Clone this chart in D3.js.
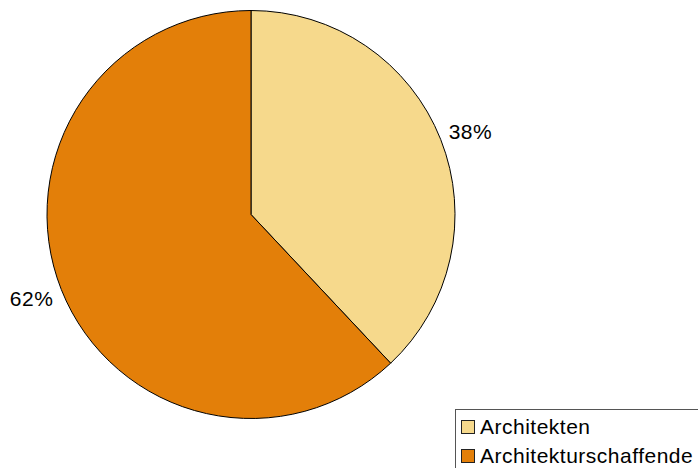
<!DOCTYPE html>
<html>
<head>
<meta charset="utf-8">
<script src="https://cdn.jsdelivr.net/npm/d3@7"></script>
<style>
  html, body { margin: 0; padding: 0; background: #fff; }
  svg { display: block; font-family: "Liberation Sans", Arial, sans-serif; }
</style>
</head>
<body>
<svg id="chart" width="698" height="468"></svg>
<script>
// Share of architects vs. architectural professionals
const categories = ["Architekten", "Architekturschaffende"];
const values = [38, 62];
const colors = ["#f6d98c", "#e37f09"];

const width = 698, height = 468;
const cx = 251, cy = 214.5, radius = 204;

const svg = d3.select("#chart");

const pie = d3.pie().sort(null).value(d => d.value);
const arcs = pie(categories.map((c, i) => ({ name: c, value: values[i] })));

const arc = d3.arc().innerRadius(0).outerRadius(radius);
const labelArc = d3.arc().innerRadius(236).outerRadius(236);

const color = d3.scaleOrdinal().domain(categories).range(colors);

const g = svg.append("g").attr("transform", `translate(${cx},${cy})`);

g.selectAll("path.slice")
  .data(arcs)
  .join("path")
  .attr("class", "slice")
  .attr("d", arc)
  .attr("fill", d => color(d.data.name))
  .attr("stroke", "#000")
  .attr("stroke-width", 1);

// Percentage labels just outside each slice
g.selectAll("text.pct")
  .data(arcs)
  .join("text")
  .attr("class", "pct")
  .attr("transform", d => {
    const [x, y] = labelArc.centroid(d);
    // nudge labels slightly toward the horizontal
    return `translate(${x},${y + (y < 0 ? 4 : -3)})`;
  })
  .attr("text-anchor", "middle")
  .attr("dy", "0.36em")
  .attr("font-size", 21)
  .attr("letter-spacing", 0.5)
  .attr("fill", "#000")
  .text(d => d.data.value + "%");

// Legend
const legend = svg.append("g").attr("transform", "translate(455,409)");
legend.append("rect")
  .attr("x", 0.5).attr("y", 0.5)
  .attr("width", 260).attr("height", 70)
  .attr("fill", "#fff")
  .attr("stroke", "#555")
  .attr("stroke-width", 1);

const items = legend.selectAll("g.item")
  .data(categories)
  .join("g")
  .attr("class", "item")
  .attr("transform", (d, i) => `translate(6,${11 + i * 29})`);

items.append("rect")
  .attr("x", 0.5).attr("y", 0.5)
  .attr("width", 13).attr("height", 13)
  .attr("fill", d => color(d))
  .attr("stroke", "#222")
  .attr("stroke-width", 1);

items.append("text")
  .attr("x", 19)
  .attr("y", 14)
  .attr("font-size", 21)
  .attr("letter-spacing", 0.5)
  .attr("fill", "#000")
  .text(d => d);
</script>
</body>
</html>
